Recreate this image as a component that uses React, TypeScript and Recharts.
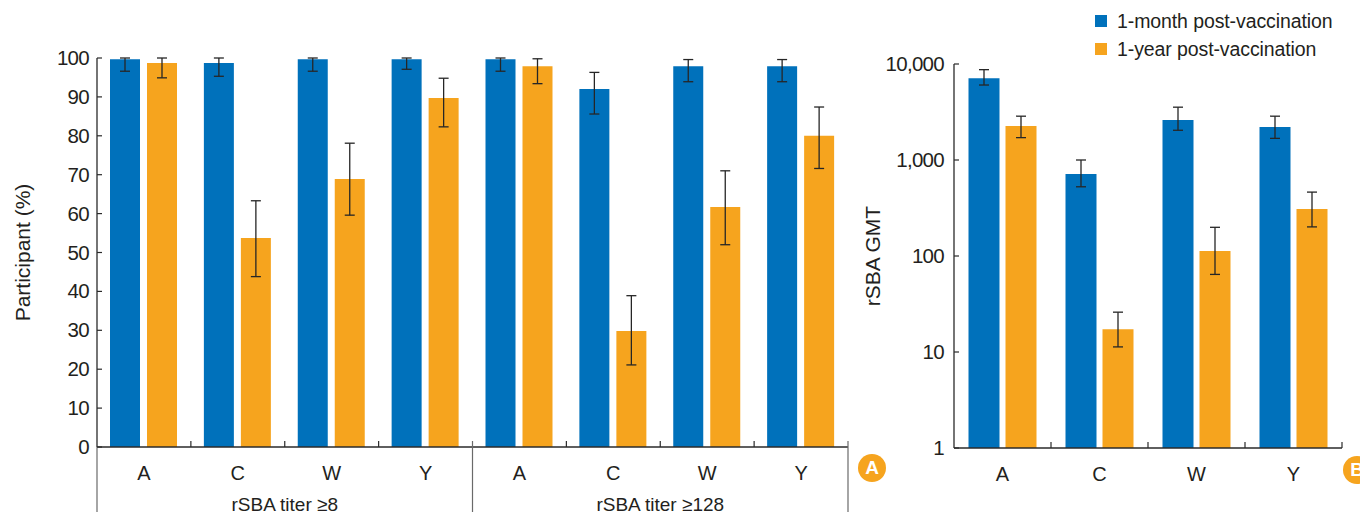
import { BarChart, Bar, XAxis, YAxis, ErrorBar } from "recharts";

const serogroups = ["A", "C", "W", "Y"];
const titerThresholds = ["rSBA titer ≥8", "rSBA titer ≥128"];
const seriesNames = ["1-month post-vaccination", "1-year post-vaccination"];
const seriesColors = ["#0071BB", "#F6A41E"];
const panelBadges = ["A", "B"];

// panel A: % of participants reaching the titer, ≥8 block first then ≥128
const pctMonth = [99.7, 98.7, 99.7, 99.7, 99.7, 92.0, 97.9, 97.9];
const pctMonthLow = [96.6, 95.3, 96.6, 97.1, 96.6, 85.6, 93.9, 93.9];
const pctMonthHigh = [100, 100, 100, 100, 100, 96.3, 99.6, 99.6];
const pctYear = [98.7, 53.7, 68.9, 89.7, 97.9, 29.8, 61.7, 80.0];
const pctYearLow = [94.9, 43.8, 59.6, 82.3, 93.4, 21.1, 52.0, 71.6];
const pctYearHigh = [100, 63.3, 78.1, 94.8, 99.8, 38.9, 71.0, 87.4];
const pctTicks = [0, 10, 20, 30, 40, 50, 60, 70, 80, 90, 100];

// panel B: geometric mean titers
const gmtMonth = [7110, 715, 2610, 2210];
const gmtMonthLow = [6040, 526, 2040, 1680];
const gmtMonthHigh = [8730, 1000, 3550, 2860];
const gmtYear = [2260, 17.3, 113, 309];
const gmtYearLow = [1710, 11.3, 64.3, 201];
const gmtYearHigh = [2860, 26, 199, 463];
const gmtTicks = [1, 10, 100, 1000, 10000];

const pctData = pctMonth.map((v, k) => ({
  id: `${Math.floor(k / serogroups.length)}-${serogroups[k % serogroups.length]}`,
  month: v,
  monthErr: [v - pctMonthLow[k], pctMonthHigh[k] - v],
  year: pctYear[k],
  yearErr: [pctYear[k] - pctYearLow[k], pctYearHigh[k] - pctYear[k]],
}));

const gmtData = serogroups.map((s, k) => ({
  id: s,
  month: gmtMonth[k],
  monthErr: [gmtMonth[k] - gmtMonthLow[k], gmtMonthHigh[k] - gmtMonth[k]],
  year: gmtYear[k],
  yearErr: [gmtYear[k] - gmtYearLow[k], gmtYearHigh[k] - gmtYear[k]],
}));

const FONT = '"Liberation Sans", Arial, sans-serif';
const INK = "#231F20";
const AXIS = "#2a2a2a";
const SEP = "#6a6a6a";

function YTick(props: any) {
  const { x, y, payload, gap, format } = props;
  return (
    <g>
      <line x1={x} x2={x + 5} y1={y} y2={y} stroke={AXIS} strokeWidth={1.2} />
      <text
        x={x - gap}
        y={y + 7}
        textAnchor="end"
        fontSize={20.5}
        letterSpacing={-0.7}
        fill={INK}
        fontFamily={FONT}
      >
        {format ? format(payload.value) : payload.value}
      </text>
    </g>
  );
}

function PctXTick(props: any) {
  const { x, y, payload, index } = props;
  const half = payload.offset ?? 0;
  const i = payload.index ?? index;
  const n = serogroups.length;
  const groupEnd = i % n === n - 1;
  return (
    <g>
      <line
        x1={x + half}
        x2={x + half}
        y1={y - 6}
        y2={groupEnd ? y + 65 : y}
        stroke={groupEnd ? SEP : AXIS}
        strokeWidth={1.2}
      />
      {i === 0 && (
        <line x1={x - half} x2={x - half} y1={y} y2={y + 65} stroke={SEP} strokeWidth={1.2} />
      )}
      <text x={x} y={y + 33} textAnchor="middle" fontSize={20} fill={INK} fontFamily={FONT}>
        {serogroups[i % n]}
      </text>
      {i % n === 1 && (
        <text x={x + half} y={y + 64} textAnchor="middle" fontSize={19} fill={INK} fontFamily={FONT}>
          {titerThresholds[Math.floor(i / n)]}
        </text>
      )}
    </g>
  );
}

function GmtXTick(props: any) {
  const { x, y, payload, index } = props;
  const half = payload.offset ?? 0;
  const i = payload.index ?? index;
  return (
    <g>
      <line x1={x + half} x2={x + half} y1={y - 6} y2={y} stroke={AXIS} strokeWidth={1.2} />
      <text x={x} y={y + 33} textAnchor="middle" fontSize={20} fill={INK} fontFamily={FONT}>
        {serogroups[i]}
      </text>
    </g>
  );
}

const axisTitle = (value: string, dx: number) => ({
  value,
  angle: -90,
  position: "center" as const,
  dx,
  fontSize: 21,
  fill: INK,
  fontFamily: FONT,
});

function Badge({ letter, left, top }: { letter: string; left: number; top: number }) {
  return (
    <div
      style={{
        position: "absolute",
        left,
        top,
        width: 28,
        height: 28,
        borderRadius: "50%",
        background: seriesColors[1],
        color: "#fff",
        fontFamily: FONT,
        fontWeight: 700,
        fontSize: 19,
        lineHeight: "28px",
        textAlign: "center",
      }}
    >
      {letter}
    </div>
  );
}

export default function App() {
  const errStyle = { width: 5, stroke: "#262626", strokeWidth: 1.3 };
  return (
    <div
      style={{
        position: "absolute",
        left: 0,
        top: 0,
        width: 1360,
        height: 516,
        overflow: "hidden",
        background: "#fff",
        fontFamily: FONT,
      }}
    >
      <div style={{ position: "absolute", left: 0, top: 0 }}>
        <BarChart
          width={860}
          height={516}
          data={pctData}
          margin={{ top: 58, right: 12, bottom: 0, left: 0 }}
          barCategoryGap={13}
          barGap={7}
        >
          <XAxis
            dataKey="id"
            height={69}
            interval={0}
            tickSize={0}
            tickMargin={0}
            tickLine={false}
            axisLine={{ stroke: AXIS, strokeWidth: 1.3 }}
            tick={<PctXTick />}
          />
          <YAxis
            width={97}
            domain={[0, 100]}
            ticks={pctTicks}
            interval={0}
            tickSize={0}
            tickMargin={0}
            tickLine={false}
            axisLine={{ stroke: AXIS, strokeWidth: 1.3 }}
            tick={<YTick gap={8} />}
            label={axisTitle("Participant (%)", -26)}
          />
          <Bar dataKey="month" name={seriesNames[0]} fill={seriesColors[0]} isAnimationActive={false}>
            <ErrorBar dataKey="monthErr" direction="y" isAnimationActive={false} {...errStyle} />
          </Bar>
          <Bar dataKey="year" name={seriesNames[1]} fill={seriesColors[1]} isAnimationActive={false}>
            <ErrorBar dataKey="yearErr" direction="y" isAnimationActive={false} {...errStyle} />
          </Bar>
        </BarChart>
      </div>

      <div style={{ position: "absolute", left: 860, top: 0 }}>
        <BarChart
          width={500}
          height={516}
          data={gmtData}
          margin={{ top: 64, right: 18, bottom: 0, left: 0 }}
          barCategoryGap={14.5}
          barGap={6}
        >
          <XAxis
            dataKey="id"
            height={68}
            interval={0}
            tickSize={0}
            tickMargin={0}
            tickLine={false}
            axisLine={{ stroke: AXIS, strokeWidth: 1.3 }}
            tick={<GmtXTick />}
          />
          <YAxis
            width={94}
            scale="log"
            type="number"
            domain={[1, 10000]}
            ticks={gmtTicks}
            interval={0}
            tickSize={0}
            tickMargin={0}
            tickLine={false}
            axisLine={{ stroke: AXIS, strokeWidth: 1.3 }}
            tick={<YTick gap={10} format={(v: number) => v.toLocaleString("en-US")} />}
            label={axisTitle("rSBA GMT", -34)}
          />
          <Bar dataKey="month" name={seriesNames[0]} fill={seriesColors[0]} isAnimationActive={false}>
            <ErrorBar dataKey="monthErr" direction="y" isAnimationActive={false} {...errStyle} />
          </Bar>
          <Bar dataKey="year" name={seriesNames[1]} fill={seriesColors[1]} isAnimationActive={false}>
            <ErrorBar dataKey="yearErr" direction="y" isAnimationActive={false} {...errStyle} />
          </Bar>
        </BarChart>
      </div>

      {/* legend */}
      <div style={{ position: "absolute", left: 1095, top: 7 }}>
        {seriesNames.map((name, i) => (
          <div key={name} style={{ display: "flex", alignItems: "center", height: 28 }}>
            <span style={{ width: 12, height: 12, background: seriesColors[i], marginRight: 10 }} />
            <span style={{ fontSize: 19.5, color: INK, letterSpacing: -0.1 }}>{name}</span>
          </div>
        ))}
      </div>

      <Badge letter={panelBadges[0]} left={858} top={454} />
      <Badge letter={panelBadges[1]} left={1343} top={456} />
    </div>
  );
}
